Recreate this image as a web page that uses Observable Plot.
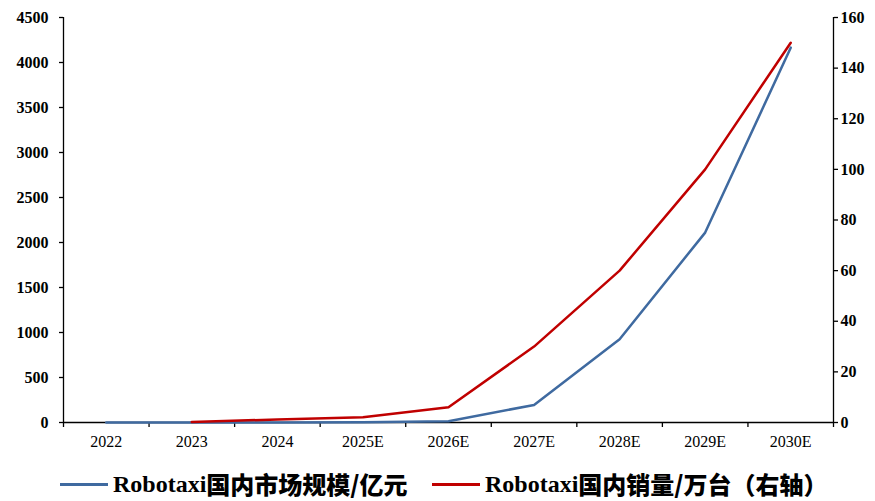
<!DOCTYPE html>
<html>
<head>
<meta charset="utf-8">
<script src="https://cdn.jsdelivr.net/npm/d3@7"></script>
<script src="https://cdn.jsdelivr.net/npm/@observablehq/plot@0.6"></script>
<style>
  body { margin: 0; background: #fff; }
  #wrap { position: relative; width: 875px; height: 501px; overflow: hidden; }
  #chart svg text { font-family: "Liberation Serif", "Times New Roman", serif; }
  #chart svg g[aria-label="y-axis tick label"] text { font-weight: 700; font-size: 16px; }
  #chart svg g[aria-label="x-axis tick label"] text { font-size: 16px; }
  #legend { position: absolute; left: 0; top: 471px; width: 875px; height: 26px; }
  .item { position: absolute; top: 0; height: 26px; display: flex; align-items: center; white-space: nowrap; line-height: 1; }
  .swatch { display: inline-block; width: 48px; height: 3px; margin-right: 5px; }
  .lt { font-family: "Liberation Serif", "Times New Roman", serif; font-weight: bold; font-size: 24px; line-height: 1; }
  .cjk { font-family: "Noto Sans CJK SC", sans-serif; font-weight: 900; font-size: 24px; line-height: 1; }
</style>
</head>
<body>
<div id="wrap">
  <div id="chart"></div>
  <div id="legend"></div>
</div>
<script>
const categories = ["2022", "2023", "2024", "2025E", "2026E", "2027E", "2028E", "2029E", "2030E"];
// Robotaxi domestic market size (亿元), left axis
const marketSize = [0, 0, 1, 3, 15, 195, 925, 2110, 4165];
// Robotaxi domestic sales (万台), right axis; starts 2023
const sales = [null, 0.2, 1.2, 2.1, 6, 30, 60, 100, 150];
const leftTicks = [0, 500, 1000, 1500, 2000, 2500, 3000, 3500, 4000, 4500];
const rightTicks = [0, 20, 40, 60, 80, 100, 120, 140, 160];
const seriesNames = ["Robotaxi国内市场规模/亿元", "Robotaxi国内销量/万台（右轴）"];
const colors = ["#3f6aa0", "#c00000"];

const k = 4500 / 160;
const blueData = categories.map((c, i) => ({i, v: marketSize[i]}));
const redData = categories.map((c, i) => ({i, v: sales[i]})).filter(d => d.v != null);
const boundaries = d3.range(categories.length + 1).map(i => i - 0.5);

const serif = "Liberation Serif, Times New Roman, serif";

const chart = Plot.plot({
  width: 875,
  height: 460,
  marginLeft: 63,
  marginRight: 42,
  marginTop: 17,
  marginBottom: 38,
  style: {color: "#000", background: "#fff"},
  x: {type: "linear", domain: [-0.5, categories.length - 0.5], axis: null},
  y: {domain: [0, 4500], axis: null},
  marks: [
    // x axis labels
    Plot.axisX({ticks: d3.range(categories.length), tickFormat: i => categories[i], tickSize: 0, tickPadding: 13, fontSize: 16, fontFamily: serif, label: null}),
    // x boundary ticks
    Plot.axisX({ticks: boundaries, tickFormat: () => "", tickSize: 5, stroke: "#000", strokeWidth: 1.3, label: null}),
    // left axis
    Plot.axisY({ticks: leftTicks, tickSize: 4, tickPadding: 11, fontSize: 16, fontWeight: "bold", fontFamily: serif, tickFormat: d => String(d), stroke: "#000", strokeWidth: 1.3, label: null}),
    // right axis
    Plot.axisY({anchor: "right", ticks: rightTicks.map(v => v * k), tickFormat: d => String(Math.round(d / k)), tickSize: 4, tickPadding: 3, fontSize: 16, fontWeight: "bold", fontFamily: serif, stroke: "#000", strokeWidth: 1.3, label: null}),
    Plot.ruleX([-0.5, categories.length - 0.5], {stroke: "#000", strokeWidth: 1.3}),
    Plot.ruleY([0], {stroke: "#000", strokeWidth: 1.3}),
    Plot.line(blueData, {x: "i", y: "v", stroke: colors[0], strokeWidth: 2.5}),
    Plot.line(redData, {x: "i", y: d => d.v * k, stroke: colors[1], strokeWidth: 2.5})
  ]
});
document.getElementById("chart").appendChild(chart);

const legend = document.getElementById("legend");
const lefts = [60, 432];
seriesNames.forEach((name, j) => {
  const item = document.createElement("div");
  item.className = "item";
  item.style.left = lefts[j] + "px";
  const sw = document.createElement("span");
  sw.className = "swatch";
  sw.style.background = colors[j];
  item.appendChild(sw);
  const m = name.match(/^([A-Za-z]+)(.*)$/);
  const a = document.createElement("span");
  a.className = "lt";
  a.textContent = m[1];
  const b = document.createElement("span");
  b.className = "cjk";
  b.textContent = m[2];
  item.appendChild(a);
  item.appendChild(b);
  legend.appendChild(item);
});
</script>
</body>
</html>
